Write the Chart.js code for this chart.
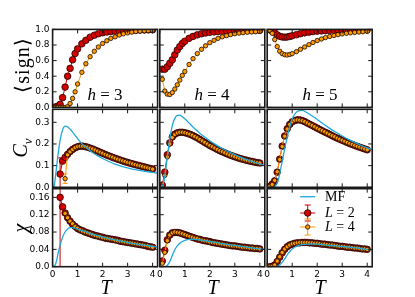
<!DOCTYPE html>
<html>
<head>
<meta charset="utf-8">
<script src="https://cdn.jsdelivr.net/npm/chart.js@4.4.1/dist/chart.umd.min.js"></script>
<style>
  body { margin: 0; background: #fff; }
  #wrap { position: relative; width: 415px; height: 297px; overflow: hidden; }
  #wrap canvas { position: absolute; left: 0; top: 0; }
  .lbl { position: absolute; font-family: 'Liberation Serif', serif; white-space: nowrap; color: #000; line-height: 1; }
  .rot { transform: translate(-50%, -50%) rotate(-90deg); }
  .ctr { transform: translate(-50%, -50%); }
  .leg { transform: translateY(-50%); font-size: 14px; }
</style>
</head>
<body>
<div id="wrap">
  <div class="lbl rot" style="left:22px;top:65px;font-size:20px;letter-spacing:1px">⟨sign⟩</div>
  <div class="lbl rot" style="left:22px;top:148px;font-size:20px"><i>C</i><sub style="font-size:13px"><i>v</i></sub></div>
  <div class="lbl rot" style="left:20px;top:228px;font-size:20px"><i>χ</i></div>
  <div class="lbl ctr" style="left:106px;top:287px;font-size:20px"><i>T</i></div>
  <div class="lbl ctr" style="left:213px;top:287px;font-size:20px"><i>T</i></div>
  <div class="lbl ctr" style="left:320px;top:287px;font-size:20px"><i>T</i></div>
  <div class="lbl ctr" style="left:105px;top:94px;font-size:17px"><i>h</i> = 3</div>
  <div class="lbl ctr" style="left:212px;top:94px;font-size:17px"><i>h</i> = 4</div>
  <div class="lbl ctr" style="left:320px;top:94px;font-size:17px"><i>h</i> = 5</div>
  <div class="lbl leg" style="left:325px;top:197px">MF</div>
  <div class="lbl leg" style="left:325px;top:213px"><i>L</i> = 2</div>
  <div class="lbl leg" style="left:325px;top:227px"><i>L</i> = 4</div>
</div>
<script>
// temperature grids
const tSign = [0.1, 0.2, 0.3, 0.4, 0.5, 0.6, 0.7, 0.8, 0.9, 1.0, 1.17, 1.33, 1.5, 1.67, 1.83, 2.0, 2.17, 2.33, 2.5, 2.67, 2.83, 3.0, 3.17, 3.33, 3.5, 3.67, 3.83, 4.0];
const tFine = [0.1, 0.2, 0.3, 0.4, 0.5, 0.6, 0.7, 0.8, 0.9, 1.0, 1.1, 1.2, 1.3, 1.4, 1.5, 1.6, 1.7, 1.8, 1.9, 2.0,
               2.1, 2.2, 2.3, 2.4, 2.5, 2.6, 2.7, 2.8, 2.9, 3.0, 3.1, 3.2, 3.3, 3.4, 3.5, 3.6, 3.7, 3.8, 3.9, 4.0];
const tMF = [0, 0.05, 0.1, 0.15, 0.2, 0.25, 0.3, 0.4, 0.5, 0.6, 0.7, 0.8, 0.9, 1.0, 1.2, 1.4, 1.6, 1.8, 2.0, 2.25, 2.5, 2.75, 3.0, 3.25, 3.5, 3.75, 4.0, 4.2];

// <sign>
const signH3L2 = [0.005, 0.015, 0.04, 0.125, 0.26, 0.40, 0.50, 0.61, 0.69, 0.75, 0.815, 0.86, 0.90, 0.925, 0.945, 0.957, 0.966, 0.972, 0.977, 0.981, 0.984, 0.987, 0.989, 0.991, 0.992, 0.993, 0.994, 0.995];
const signH3L4 = [0, 0, 0, 0, 0, 0.01, 0.05, 0.115, 0.2, 0.30, 0.45, 0.56, 0.65, 0.72, 0.775, 0.82, 0.855, 0.885, 0.905, 0.928, 0.943, 0.955, 0.965, 0.972, 0.978, 0.982, 0.985, 0.988];
const signH4L2 = [0.49, 0.49, 0.52, 0.565, 0.61, 0.675, 0.735, 0.78, 0.82, 0.848, 0.885, 0.91, 0.93, 0.944, 0.954, 0.962, 0.968, 0.972, 0.976, 0.979, 0.981, 0.983, 0.985, 0.986, 0.987, 0.988, 0.989, 0.99];
const signH4L4 = [0.36, 0.21, 0.17, 0.165, 0.19, 0.235, 0.29, 0.35, 0.41, 0.46, 0.55, 0.625, 0.69, 0.745, 0.79, 0.83, 0.86, 0.885, 0.905, 0.92, 0.933, 0.944, 0.952, 0.958, 0.963, 0.967, 0.97, 0.973];
const signH5L2 = [0.995, 0.98, 0.955, 0.93, 0.912, 0.903, 0.9, 0.903, 0.91, 0.918, 0.932, 0.945, 0.956, 0.965, 0.972, 0.977, 0.981, 0.984, 0.987, 0.989, 0.991, 0.992, 0.993, 0.994, 0.995, 0.995, 0.996, 0.996];
const signH5L4 = [0.99, 0.95, 0.87, 0.78, 0.72, 0.69, 0.675, 0.672, 0.678, 0.69, 0.715, 0.745, 0.775, 0.805, 0.832, 0.857, 0.877, 0.895, 0.91, 0.922, 0.933, 0.942, 0.95, 0.956, 0.961, 0.966, 0.97, 0.974];

// C_v
const cvH3L2 = [null, null, 0.061, 0.121, 0.138, 0.152, 0.165, 0.175, 0.182, 0.187, 0.19, 0.19, 0.188, 0.185, 0.181, 0.177, 0.172, 0.167, 0.162, 0.157,
                0.152, 0.147, 0.143, 0.138, 0.134, 0.13, 0.126, 0.122, 0.118, 0.115, 0.111, 0.108, 0.105, 0.102, 0.099, 0.096, 0.093, 0.09, 0.087, 0.084];
const cvH3L4 = [null, null, null, null, 0.04, 0.15, 0.164, 0.175, 0.183, 0.188, 0.19, 0.19, 0.188, 0.185, 0.181, 0.177, 0.172, 0.167, 0.162, 0.157,
                0.152, 0.148, 0.143, 0.139, 0.134, 0.13, 0.126, 0.122, 0.119, 0.115, 0.112, 0.108, 0.105, 0.102, 0.099, 0.096, 0.093, 0.09, 0.087, 0.084];
const cvH4L2 = [0.01, 0.07, 0.15, 0.205, 0.232, 0.245, 0.251, 0.254, 0.254, 0.252, 0.249, 0.245, 0.24, 0.234, 0.228, 0.221, 0.214, 0.207, 0.2, 0.193,
                0.187, 0.181, 0.175, 0.169, 0.164, 0.159, 0.154, 0.149, 0.145, 0.141, 0.137, 0.133, 0.13, 0.127, 0.124, 0.121, 0.119, 0.116, 0.114, 0.112];
const cvH4L4 = [0.003, 0.055, 0.14, 0.2, 0.23, 0.244, 0.251, 0.254, 0.254, 0.252, 0.249, 0.245, 0.24, 0.234, 0.228, 0.221, 0.214, 0.207, 0.2, 0.193,
                0.187, 0.181, 0.175, 0.169, 0.164, 0.159, 0.154, 0.149, 0.145, 0.141, 0.137, 0.133, 0.13, 0.127, 0.124, 0.121, 0.119, 0.116, 0.114, 0.112];
const cvH5L2 = [0.005, 0.015, 0.03, 0.07, 0.13, 0.19, 0.237, 0.27, 0.29, 0.302, 0.308, 0.311, 0.311, 0.308, 0.303, 0.297, 0.291, 0.285, 0.279, 0.273,
                0.267, 0.261, 0.255, 0.25, 0.244, 0.238, 0.232, 0.227, 0.222, 0.217, 0.212, 0.207, 0.202, 0.198, 0.193, 0.189, 0.185, 0.181, 0.177, 0.173];
const cvH5L4 = [0.004, 0.013, 0.032, 0.072, 0.128, 0.188, 0.236, 0.269, 0.29, 0.302, 0.309, 0.311, 0.31, 0.307, 0.303, 0.297, 0.291, 0.285, 0.279, 0.273,
                0.267, 0.261, 0.256, 0.25, 0.244, 0.238, 0.233, 0.227, 0.222, 0.217, 0.212, 0.207, 0.202, 0.198, 0.193, 0.189, 0.185, 0.181, 0.177, 0.173];

// chi
const chiH3L2 = [null, null, 0.16, 0.138, 0.124, 0.113, 0.105, 0.098, 0.093, 0.088, 0.085, 0.083, 0.08, 0.078, 0.076, 0.074, 0.072, 0.071, 0.069, 0.068,
                 0.066, 0.065, 0.064, 0.063, 0.062, 0.061, 0.059, 0.058, 0.057, 0.056, 0.055, 0.054, 0.053, 0.052, 0.051, 0.05, 0.049, 0.047, 0.046, 0.045];
const chiH3L4 = [null, null, null, null, 0.123, 0.113, 0.105, 0.099, 0.093, 0.089, 0.085, 0.082, 0.08, 0.078, 0.076, 0.074, 0.072, 0.07, 0.069, 0.067,
                 0.066, 0.065, 0.064, 0.063, 0.061, 0.06, 0.059, 0.058, 0.057, 0.056, 0.055, 0.054, 0.053, 0.052, 0.051, 0.05, 0.049, 0.048, 0.046, 0.045];
const chiH4L2 = [0.013, 0.038, 0.062, 0.073, 0.078, 0.079, 0.079, 0.078, 0.076, 0.074, 0.072, 0.07, 0.068, 0.066, 0.064, 0.063, 0.061, 0.06, 0.059, 0.058,
                 0.056, 0.055, 0.054, 0.053, 0.052, 0.051, 0.05, 0.049, 0.048, 0.048, 0.047, 0.046, 0.045, 0.045, 0.044, 0.043, 0.043, 0.042, 0.042, 0.041];
const chiH4L4 = [0.008, 0.033, 0.06, 0.073, 0.078, 0.08, 0.079, 0.078, 0.076, 0.074, 0.072, 0.07, 0.068, 0.066, 0.065, 0.063, 0.061, 0.06, 0.059, 0.057,
                 0.056, 0.055, 0.054, 0.053, 0.052, 0.051, 0.05, 0.049, 0.048, 0.048, 0.047, 0.046, 0.045, 0.045, 0.044, 0.043, 0.043, 0.042, 0.042, 0.041];
const chiH5L2 = [0.0, 0.001, 0.004, 0.012, 0.022, 0.032, 0.04, 0.046, 0.05, 0.052, 0.054, 0.055, 0.055, 0.056, 0.056, 0.056, 0.055, 0.055, 0.054, 0.054,
                 0.053, 0.052, 0.052, 0.051, 0.05, 0.05, 0.049, 0.048, 0.047, 0.047, 0.046, 0.045, 0.045, 0.044, 0.043, 0.043, 0.042, 0.041, 0.041, 0.04];
const chiH5L4 = [0.0, 0.001, 0.004, 0.013, 0.023, 0.033, 0.041, 0.046, 0.05, 0.053, 0.054, 0.055, 0.056, 0.056, 0.056, 0.056, 0.055, 0.055, 0.054, 0.054,
                 0.053, 0.052, 0.052, 0.051, 0.05, 0.05, 0.049, 0.048, 0.047, 0.047, 0.046, 0.045, 0.045, 0.044, 0.043, 0.043, 0.042, 0.041, 0.041, 0.04];

// mean field curves
const mfCvH3 = [0, 0.003, 0.035, 0.085, 0.135, 0.18, 0.218, 0.265, 0.282, 0.279, 0.268, 0.255, 0.24, 0.225, 0.198, 0.178, 0.161, 0.146, 0.133, 0.119, 0.107, 0.098, 0.09, 0.083, 0.078, 0.073, 0.069, 0.066];
const mfCvH4 = [0, 0, 0.003, 0.02, 0.05, 0.095, 0.14, 0.225, 0.285, 0.318, 0.332, 0.333, 0.326, 0.316, 0.293, 0.27, 0.25, 0.232, 0.215, 0.196, 0.179, 0.164, 0.151, 0.138, 0.127, 0.117, 0.108, 0.101];
const mfCvH5 = [0, 0, 0, 0, 0, 0.001, 0.003, 0.02, 0.062, 0.12, 0.178, 0.232, 0.278, 0.315, 0.35, 0.355, 0.344, 0.329, 0.313, 0.292, 0.272, 0.254, 0.237, 0.221, 0.207, 0.194, 0.182, 0.173];
const mfChiH3 = [0, 0.001, 0.004, 0.012, 0.025, 0.038, 0.05, 0.068, 0.08, 0.087, 0.09, 0.09, 0.089, 0.087, 0.083, 0.079, 0.075, 0.072, 0.069, 0.065, 0.062, 0.059, 0.056, 0.053, 0.051, 0.049, 0.047, 0.045];
const mfChiH4 = [0, 0, 0, 0, 0, 0.001, 0.003, 0.012, 0.026, 0.039, 0.048, 0.054, 0.058, 0.061, 0.063, 0.063, 0.062, 0.06, 0.058, 0.056, 0.053, 0.051, 0.049, 0.047, 0.045, 0.043, 0.041, 0.04];
const mfChiH5 = [0, 0, 0, 0, 0, 0, 0, 0.001, 0.004, 0.01, 0.018, 0.027, 0.035, 0.041, 0.048, 0.051, 0.052, 0.052, 0.052, 0.051, 0.049, 0.048, 0.047, 0.045, 0.044, 0.042, 0.04, 0.039];

// visible error bars: [T, error]
const cvH3L2Err = [[0.3, 0.075]];
const cvH3L4Err = [[0.5, 0.022]];
const chiH3L2Err = [[0.3, 0.17]];

// ticks
const xTicks = [0, 1, 2, 3, 4];
const xTickLabels = ['0', '1', '2', '3', '4'];
const signTicks = [0, 0.2, 0.4, 0.6, 0.8, 1.0];
const signTickLabels = ['0.0', '0.2', '0.4', '0.6', '0.8', '1.0'];
const cvTicks = [0, 0.1, 0.2, 0.3];
const cvTickLabels = ['0.0', '0.1', '0.2', '0.3'];
const chiTicks = [0, 0.04, 0.08, 0.12, 0.16];
const chiTickLabels = ['0.0', '0.04', '0.08', '0.12', '0.16'];

// panel grid (page pixels)
const colLeft = [52.6, 159.8, 267.2];
const colW = 105;
const rowTop = [29.4, 109.3, 188.7];
const rowH = 78;
const W = 415, H = 297;

const RED = '#cc0000', ORANGE = '#ff9900', CYAN = '#1ea8dc';

const pts = (ts, vs) => ts.map((t, i) => ({ x: t, y: vs[i] }));

function l2(ts, vs, errs) {
    return {
        data: pts(ts, vs), errs: errs,
        borderColor: RED, borderWidth: 1,
        pointRadius: 3.3, pointBackgroundColor: '#d40000',
        pointBorderColor: '#220000', pointBorderWidth: 0.8
    };
}
function l4(ts, vs, errs) {
    return {
        data: pts(ts, vs), errs: errs,
        borderColor: ORANGE, borderWidth: 1,
        pointRadius: 2.2, pointBackgroundColor: '#ff9a00',
        pointBorderColor: '#1a0a00', pointBorderWidth: 0.8
    };
}
function mf(vs) {
    return {
        data: pts(tMF, vs),
        borderColor: CYAN, borderWidth: 1.3,
        pointRadius: 0, cubicInterpolationMode: 'monotone'
    };
}

// frame + inward ticks on all four sides
const frame = {
    id: 'frame',
    afterDatasetsDraw(chart) {
        const { ctx, chartArea: a, scales: { x, y } } = chart;
        ctx.save();
        ctx.strokeStyle = '#1a1a1a';
        ctx.lineWidth = 1;
        ctx.beginPath();
        x.ticks.forEach(t => {
            const px = x.getPixelForValue(t.value);
            ctx.moveTo(px, a.bottom); ctx.lineTo(px, a.bottom - 4);
            ctx.moveTo(px, a.top); ctx.lineTo(px, a.top + 4);
        });
        y.ticks.forEach(t => {
            const py = y.getPixelForValue(t.value);
            ctx.moveTo(a.left, py); ctx.lineTo(a.left + 4, py);
            ctx.moveTo(a.right, py); ctx.lineTo(a.right - 4, py);
        });
        ctx.stroke();
        ctx.lineWidth = 1.6;
        ctx.strokeRect(a.left, a.top, a.right - a.left, a.bottom - a.top);
        ctx.restore();
    }
};

// error bars with caps, clipped to the axes
const errorBars = {
    id: 'errorBars',
    beforeDatasetsDraw(chart) {
        const { ctx, chartArea: a, scales: { y } } = chart;
        ctx.save();
        ctx.beginPath();
        ctx.rect(a.left, a.top, a.right - a.left, a.bottom - a.top);
        ctx.clip();
        chart.data.datasets.forEach((ds, di) => {
            if (!ds.errs) return;
            const meta = chart.getDatasetMeta(di);
            ds.errs.forEach(([t, e]) => {
                const i = ds.data.findIndex(p => p.x === t);
                if (i < 0) return;
                const px = meta.data[i].x, v = ds.data[i].y;
                const y1 = y.getPixelForValue(v - e), y2 = y.getPixelForValue(v + e);
                ctx.strokeStyle = ds.borderColor;
                ctx.lineWidth = 1;
                ctx.beginPath();
                ctx.moveTo(px, y1); ctx.lineTo(px, y2);
                ctx.moveTo(px - 2.5, y1); ctx.lineTo(px + 2.5, y1);
                ctx.moveTo(px - 2.5, y2); ctx.lineTo(px + 2.5, y2);
                ctx.stroke();
            });
        });
        ctx.restore();
    }
};

// legend handles (line / marker / error bar), text is in the page
const legendHandles = {
    id: 'legendHandles',
    afterDraw(chart) {
        const { ctx, chartArea: a } = chart;
        const x0 = a.left + 33, x1 = a.left + 48, xm = (x0 + x1) / 2;
        const rows = [a.top + 8, a.top + 24.3, a.top + 38.3];
        ctx.save();
        ctx.lineWidth = 1.3;
        ctx.strokeStyle = CYAN;
        ctx.beginPath(); ctx.moveTo(x0, rows[0]); ctx.lineTo(x1, rows[0]); ctx.stroke();
        [[RED, '#d40000', 3.3, rows[1]], [ORANGE, '#ff9a00', 2.2, rows[2]]].forEach(([lc, fc, r, yy]) => {
            ctx.strokeStyle = lc;
            ctx.lineWidth = 1;
            ctx.beginPath();
            ctx.moveTo(x0, yy); ctx.lineTo(x1, yy);
            ctx.moveTo(xm, yy - 8); ctx.lineTo(xm, yy + 8);
            ctx.moveTo(xm - 3, yy - 8); ctx.lineTo(xm + 3, yy - 8);
            ctx.moveTo(xm - 3, yy + 8); ctx.lineTo(xm + 3, yy + 8);
            ctx.stroke();
            ctx.beginPath();
            ctx.arc(xm, yy, r, 0, Math.PI * 2);
            ctx.fillStyle = fc; ctx.fill();
            ctx.strokeStyle = '#220000'; ctx.lineWidth = 0.8; ctx.stroke();
        });
        ctx.restore();
    }
};

const wrap = document.getElementById('wrap');

function panel(r, c, datasets, yMax, yTicks, yLabels, extra) {
    const cv = document.createElement('canvas');
    cv.width = W; cv.height = H;
    cv.style.width = W + 'px'; cv.style.height = H + 'px';
    wrap.insertBefore(cv, wrap.firstChild);
    const left = colLeft[c], top = rowTop[r];
    const right = left + colW, bottom = top + rowH;
    return new Chart(cv, {
        type: 'line',
        data: { datasets: datasets },
        options: {
            responsive: false,
            animation: false,
            devicePixelRatio: 1,
            events: [],
            layout: { padding: { left: 0, top: top, right: W - right, bottom: 0 } },
            plugins: { legend: { display: false }, tooltip: { enabled: false } },
            scales: {
                x: {
                    type: 'linear', min: 0, max: 4.2,
                    grid: { display: false, drawTicks: false }, border: { display: false },
                    afterBuildTicks: s => { s.ticks = xTicks.map(v => ({ value: v })); },
                    afterFit: s => { s.height = H - bottom; s.paddingLeft = 0; s.paddingRight = 0; },
                    ticks: {
                        display: r === 2, autoSkip: false, maxRotation: 0, padding: 3,
                        color: '#000', font: { family: 'DejaVu Sans', size: 9 },
                        callback: v => xTickLabels[xTicks.indexOf(v)]
                    }
                },
                y: {
                    type: 'linear', min: 0, max: yMax,
                    grid: { display: false, drawTicks: false }, border: { display: false },
                    afterBuildTicks: s => { s.ticks = yTicks.map(v => ({ value: v })); },
                    afterFit: s => { s.width = left; s.paddingTop = 0; s.paddingBottom = 0; },
                    ticks: {
                        display: c === 0, autoSkip: false, padding: 3,
                        color: '#000', font: { family: 'DejaVu Sans', size: 9 },
                        callback: v => yLabels[yTicks.indexOf(v)]
                    }
                }
            }
        },
        plugins: [errorBars, frame].concat(extra || [])
    });
}

// row 0: average sign
panel(0, 0, [l4(tSign, signH3L4), l2(tSign, signH3L2)], 1.0, signTicks, signTickLabels);
panel(0, 1, [l4(tSign, signH4L4), l2(tSign, signH4L2)], 1.0, signTicks, signTickLabels);
panel(0, 2, [l4(tSign, signH5L4), l2(tSign, signH5L2)], 1.0, signTicks, signTickLabels);
// row 1: specific heat
panel(1, 0, [mf(mfCvH3), l4(tFine, cvH3L4, cvH3L4Err), l2(tFine, cvH3L2, cvH3L2Err)], 0.36, cvTicks, cvTickLabels);
panel(1, 1, [mf(mfCvH4), l4(tFine, cvH4L4), l2(tFine, cvH4L2)], 0.36, cvTicks, cvTickLabels);
panel(1, 2, [mf(mfCvH5), l4(tFine, cvH5L4), l2(tFine, cvH5L2)], 0.36, cvTicks, cvTickLabels);
// row 2: susceptibility
panel(2, 0, [mf(mfChiH3), l4(tFine, chiH3L4), l2(tFine, chiH3L2, chiH3L2Err)], 0.18, chiTicks, chiTickLabels);
panel(2, 1, [mf(mfChiH4), l4(tFine, chiH4L4), l2(tFine, chiH4L2)], 0.18, chiTicks, chiTickLabels);
panel(2, 2, [mf(mfChiH5), l4(tFine, chiH5L4), l2(tFine, chiH5L2)], 0.18, chiTicks, chiTickLabels, [legendHandles]);
</script>
</body>
</html>
